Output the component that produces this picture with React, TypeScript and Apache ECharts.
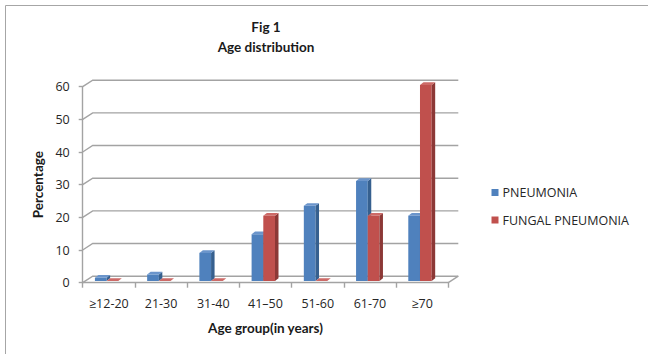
import React, { useEffect, useRef } from "react";
import * as echarts from "echarts";

// Age groups and percentage of patients in each
const categories = ["≥12-20", "21-30", "31-40", "41–50", "51-60", "61-70", "≥70"];
const pneumonia = [1, 2, 8.6, 14.3, 23, 30.6, 20];
const fungalPneumonia = [0, 0, 0, 20, 0, 20, 60];
const gridValues = [0, 10, 20, 30, 40, 50, 60];

const BLUE = { front: "#4F81BD", side: "#36608F", top: "#6B95CB" };
const RED = { front: "#C0504D", side: "#8C3836", top: "#CD6A67" };

// oblique depth of the back wall and of the bars
const WALL_DX = 10;
const WALL_DY = 6.5;
const BAR_DX = 3.5;
const BAR_DY = 2.7;
const BAR_W = 11.7;
const BAR_LIFT = 1.7;

const LABEL_FONT = "'Open Sans', 'DejaVu Sans', sans-serif";
const BOLD_FONT = "Lato, 'Open Sans', sans-serif";

function barRenderer(offset: number, colors: { front: string; side: string; top: string }) {
  return (params: any, api: any) => {
    const idx = api.value(0);
    const val = api.value(1);
    const basePt = api.coord([idx, 0]);
    const topPt = api.coord([idx, val]);
    const x = basePt[0] + offset;
    const base = basePt[1] - BAR_LIFT;
    const top = topPt[1] - BAR_LIFT;
    const children: any[] = [];
    if (base - top > 0.01) {
      children.push({
        type: "rect",
        shape: { x, y: top, width: BAR_W, height: base - top },
        style: { fill: colors.front },
      });
    }
    children.push({
      type: "polygon",
      shape: {
        points: [
          [x + BAR_W, top],
          [x + BAR_W + BAR_DX, top - BAR_DY],
          [x + BAR_W + BAR_DX, base - BAR_DY],
          [x + BAR_W, base],
        ],
      },
      style: { fill: colors.side },
    });
    children.push({
      type: "polygon",
      shape: {
        points: [
          [x, top],
          [x + BAR_DX, top - BAR_DY],
          [x + BAR_W + BAR_DX, top - BAR_DY],
          [x + BAR_W, top],
        ],
      },
      style: { fill: colors.top },
    });
    return { type: "group", children };
  };
}

function wallRenderer(params: any, api: any) {
  const cs = params.coordSys;
  const v = api.value(1);
  const y = api.coord([0, v])[1];
  const x0 = cs.x;
  const x1 = cs.x + cs.width;
  const lineStyle = { stroke: "#A3A3A3", lineWidth: 1.4, fill: "none" };
  const children: any[] = [
    {
      type: "polyline",
      shape: {
        points: [
          [x0, y],
          [x0 + WALL_DX, y - WALL_DY],
          [x1 + WALL_DX, y - WALL_DY],
        ],
      },
      style: lineStyle,
    },
  ];
  if (v === 0) {
    children.push({
      type: "line",
      shape: { x1: x1, y1: y, x2: x1 + WALL_DX, y2: y - WALL_DY },
      style: lineStyle,
    });
  }
  return { type: "group", children };
}

export default function App() {
  const ref = useRef<HTMLDivElement>(null);

  useEffect(() => {
    if (!ref.current) return;
    const chart = echarts.init(ref.current, null, { renderer: "svg" });
    chart.setOption({
      animation: false,
      backgroundColor: "#ffffff",
      title: {
        text: "Fig 1\nAge distribution",
        left: 266,
        top: 16.5,
        padding: 0,
        textAlign: "center",
        textStyle: {
          fontFamily: BOLD_FONT,
          fontWeight: "bold",
          fontSize: 13.5,
          lineHeight: 20,
          color: "#1a1a1a",
        },
      },
      legend: {
        data: ["PNEUMONIA", "FUNGAL PNEUMONIA"],
        orient: "vertical",
        left: 491.5,
        top: 185.5,
        padding: 0,
        icon: "rect",
        itemWidth: 7,
        itemHeight: 7,
        itemGap: 13.5,
        textStyle: {
          fontFamily: LABEL_FONT,
          fontSize: 12.5,
          lineHeight: 14,
          color: "#262626",
          padding: [0, 0, 0, -1],
        },
      },
      grid: { left: 82.7, top: 86.7, width: 365.6, height: 196 },
      xAxis: {
        type: "category",
        data: categories,
        name: "Age group(in years)",
        nameLocation: "middle",
        nameGap: 38,
        nameTextStyle: {
          fontFamily: BOLD_FONT,
          fontWeight: "bold",
          fontSize: 13.5,
          color: "#1a1a1a",
        },
        axisLine: { lineStyle: { color: "#A3A3A3", width: 1.4 } },
        axisTick: { show: true, length: 5, lineStyle: { color: "#A3A3A3", width: 1.4 } },
        axisLabel: {
          margin: 14,
          fontFamily: LABEL_FONT,
          fontSize: 12.5,
          color: "#262626",
        },
        splitLine: { show: false },
      },
      yAxis: {
        type: "value",
        min: 0,
        max: 60,
        interval: 10,
        name: "Percentage",
        nameLocation: "middle",
        nameRotate: 90,
        nameGap: 34.5,
        nameTextStyle: {
          fontFamily: BOLD_FONT,
          fontWeight: "bold",
          fontSize: 13.5,
          color: "#1a1a1a",
        },
        axisLine: { show: true, lineStyle: { color: "#A3A3A3", width: 1.4 } },
        axisTick: { show: true, length: 4, lineStyle: { color: "#A3A3A3", width: 1.4 } },
        axisLabel: {
          margin: 13,
          fontFamily: LABEL_FONT,
          fontSize: 12.5,
          color: "#262626",
        },
        splitLine: { show: false },
      },
      graphic: [
        {
          type: "rect",
          shape: { x: 5.5, y: 5.5, width: 700, height: 400 },
          style: { fill: "none", stroke: "#A6A6A6", lineWidth: 1 },
          silent: true,
        },
      ],
      series: [
        {
          type: "custom",
          name: "wall",
          z: 1,
          clip: false,
          silent: true,
          renderItem: wallRenderer,
          data: gridValues.map((v) => [0, v]),
        },
        {
          type: "custom",
          name: "PNEUMONIA",
          z: 2,
          clip: false,
          itemStyle: { color: BLUE.front },
          renderItem: barRenderer(-13.9, BLUE),
          data: pneumonia.map((v, i) => [i, v]),
        },
        {
          type: "custom",
          name: "FUNGAL PNEUMONIA",
          z: 3,
          clip: false,
          itemStyle: { color: RED.front },
          renderItem: barRenderer(-2.2, RED),
          data: fungalPneumonia.map((v, i) => [i, v]),
        },
      ],
    });
    return () => chart.dispose();
  }, []);

  return (
    <div
      ref={ref}
      style={{ position: "fixed", left: 0, top: 0, width: 648, height: 354 }}
    />
  );
}
